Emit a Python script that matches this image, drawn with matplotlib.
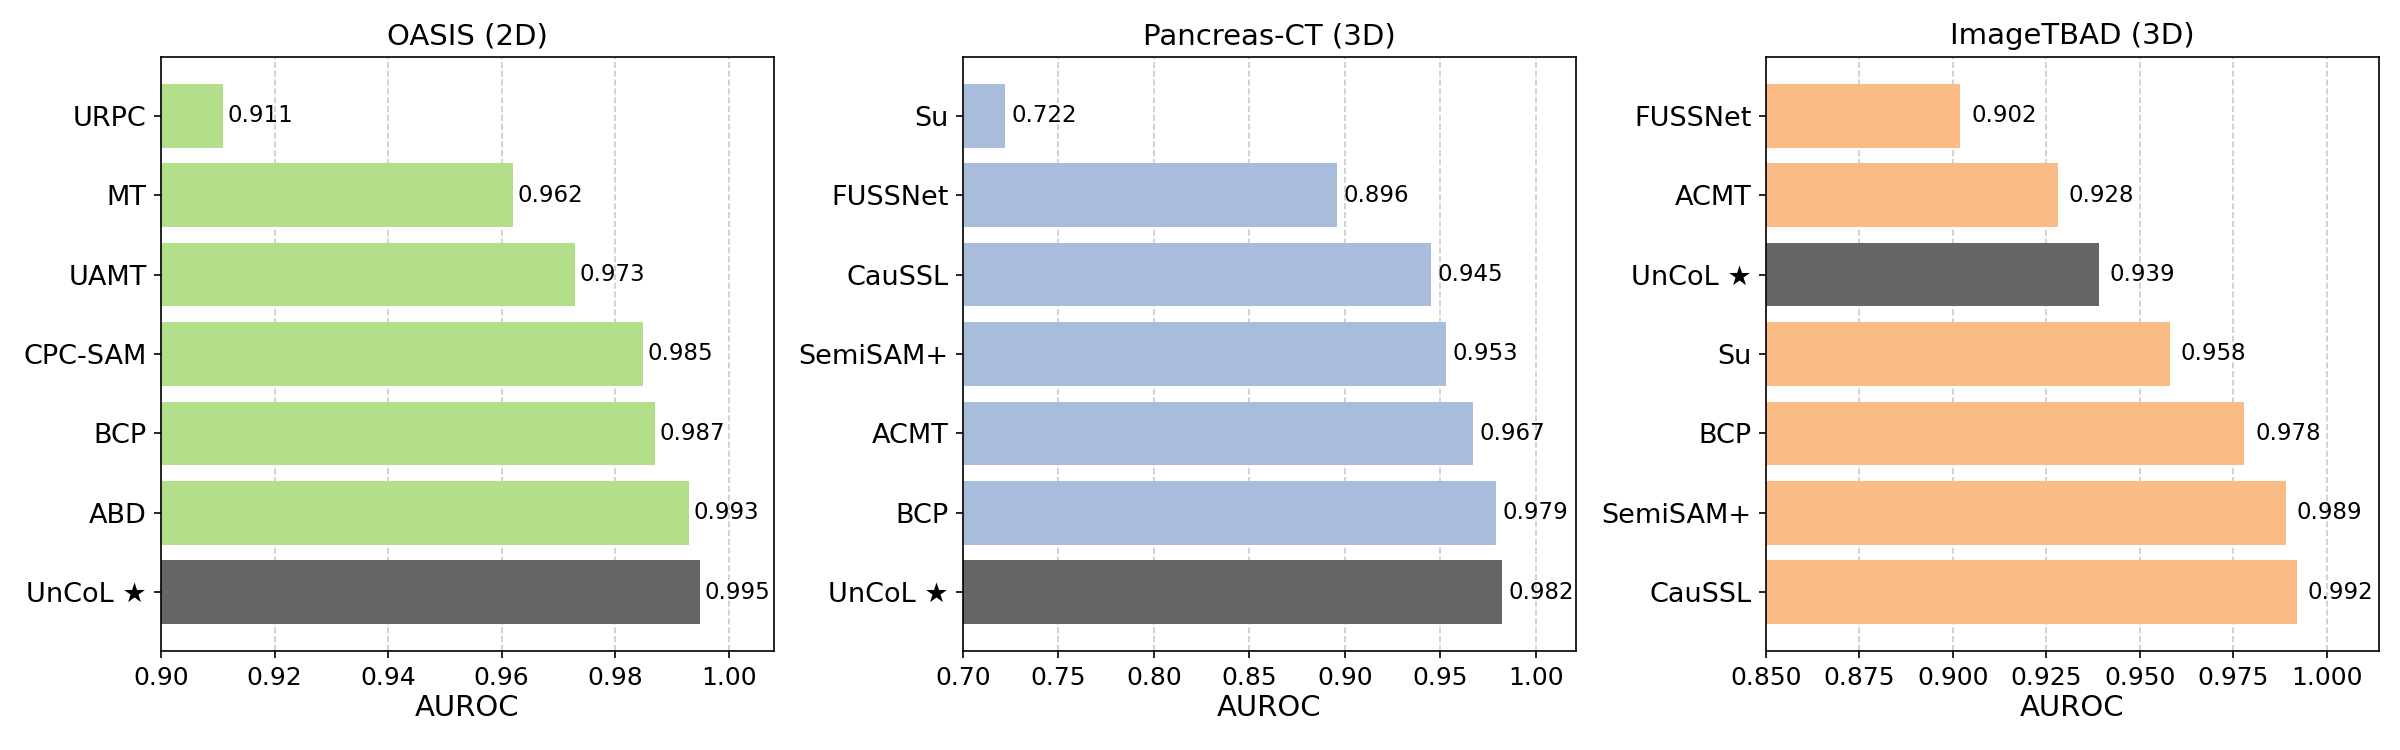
import matplotlib.pyplot as plt

# OASIS (2D)
oasis_methods = ["URPC", "MT", "UAMT", "CPC-SAM", "BCP", "ABD", "UnCoL ★"]
oasis_auroc = [0.911, 0.962, 0.973, 0.985, 0.987, 0.993, 0.995]

# Pancreas-CT (3D)
pancreas_methods = ["Su", "FUSSNet", "CauSSL", "SemiSAM+", "ACMT", "BCP", "UnCoL ★"]
pancreas_auroc = [0.722, 0.896, 0.945, 0.953, 0.967, 0.979, 0.982]

# ImageTBAD (3D)
tbad_methods = ["FUSSNet", "ACMT", "UnCoL ★", "Su", "BCP", "SemiSAM+", "CauSSL"]
tbad_auroc = [0.902, 0.928, 0.939, 0.958, 0.978, 0.989, 0.992]

panels = [
    ("OASIS (2D)", oasis_methods, oasis_auroc, "#b3df8b", (0.90, 1.008), [0.90, 0.92, 0.94, 0.96, 0.98, 1.00], "{:.2f}", 0.0008),
    ("Pancreas-CT (3D)", pancreas_methods, pancreas_auroc, "#a8bddb", (0.70, 1.021), [0.70, 0.75, 0.80, 0.85, 0.90, 0.95, 1.00], "{:.2f}", 0.0035),
    ("ImageTBAD (3D)", tbad_methods, tbad_auroc, "#fbbb86", (0.85, 1.014), [0.850, 0.875, 0.900, 0.925, 0.950, 0.975, 1.000], "{:.3f}", 0.003),
]

plt.rcParams['font.family'] = ['DejaVu Sans']

fig = plt.figure(figsize=(16, 5), dpi=150)
lefts = [161 / 2400, 963 / 2400, 1766 / 2400]
w = 613 / 2400
bottom = 1 - 651 / 750
h = (651 - 57) / 750

for left, (title, methods, vals, color, xlim, ticks, fmt, off) in zip(lefts, panels):
    ax = fig.add_axes([left, bottom, w, h])
    colors = ["#666666" if m.startswith("UnCoL") else color for m in methods]
    y = list(range(len(methods)))
    ax.barh(y, vals, color=colors, height=0.8, zorder=2)
    for yi, v in zip(y, vals):
        ax.text(v + off, yi, f"{v:.3f}", va="center", ha="left", fontsize=11, zorder=3)
    ax.set_yticks(y)
    ax.set_yticklabels(methods, fontsize=13)
    ax.invert_yaxis()
    ax.set_xlim(*xlim)
    ax.set_xticks(ticks)
    ax.set_xticklabels([fmt.format(t) for t in ticks], fontsize=12)
    ax.set_xlabel("AUROC", fontsize=14, labelpad=2)
    ax.set_title(title, fontsize=14)
    ax.grid(axis="x", linestyle="--", color="#cccccc", linewidth=0.8, zorder=0)
    ax.set_axisbelow(True)

fig.savefig("out.png", dpi=150)
